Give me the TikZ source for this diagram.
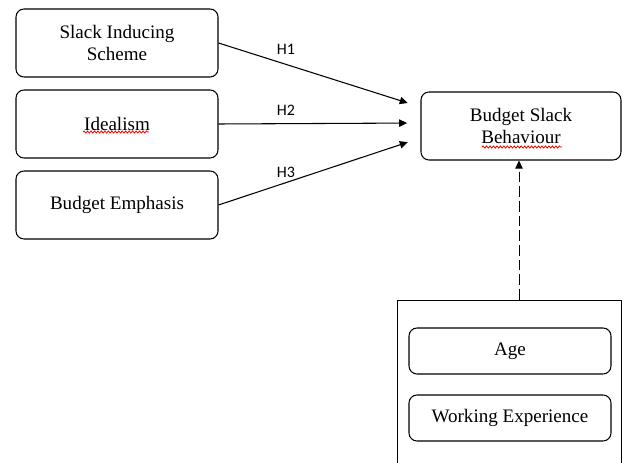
\documentclass[tikz,border=0pt]{standalone}
\usepackage{fontspec}
\setmainfont{Liberation Serif}
\newfontfamily\hfont{Carlito}
\usetikzlibrary{arrows.meta,positioning,decorations.pathmorphing}

\begin{document}
\begin{tikzpicture}[
  x=0.75pt, y=-0.75pt,
  >={Triangle[length=6pt, width=5.5pt]},
  var/.style={draw, rounded corners=6pt, line width=0.8pt, align=center,
    minimum width=151.5pt, minimum height=51pt, inner sep=1pt,
    font=\fontsize{14.3}{16.5}\selectfont},
  ctl/.style={var, minimum height=34.5pt},
  hyp/.style={font=\hfont\fontsize{12}{14}\selectfont, inner sep=0pt},
  typo/.style={red, line width=0.6pt, decorate,
    decoration={snake, amplitude=0.8pt, segment length=2.6pt}},
]
  \useasboundingbox (0,0) rectangle (622,463);
  \clip (0,0) rectangle (622,463);
  % ---------------- independent variables
  \node[var] (sis) at (117,43) {Slack Inducing\\Scheme};
  \node[var] (ide) at (117,124) {Idealism};
  \node[var] (bem) at (117,205) {Budget Emphasis};
  % ---------------- dependent variable
  \node[var, minimum width=150pt] (bsb) at (521,126) {Budget Slack\\Behaviour};
  \draw[typo] (83,132) -- (149,132);
  \draw[typo] (482,147) -- (562,147);

  \foreach \a/\d in {sis/-19, ide/-3, bem/12}
    \draw[->, line width=0.8pt, shorten >=10pt] (\a.east) -- ([yshift=-\d*0.75pt]bsb.west);
  \node[hyp] (h1) at (286,49) {H1};
  \node[hyp] (h2) at (286,110) {H2};
  \node[hyp] (h3) at (286,172) {H3};

  % ---------------- control variables
  \node[draw, line width=0.6pt, minimum width=168pt, minimum height=127.5pt] (ctrl) at (509,385) {};
  \node[ctl] (age) at (510,351) {Age};
  \node[ctl] (wex) at (510,418) {Working Experience};
  \draw[->, line width=0.6pt, dash pattern=on 8pt off 3pt] (ctrl.north -| 519,0) -- (bsb.south -| 519,0);
\end{tikzpicture}
\end{document}
